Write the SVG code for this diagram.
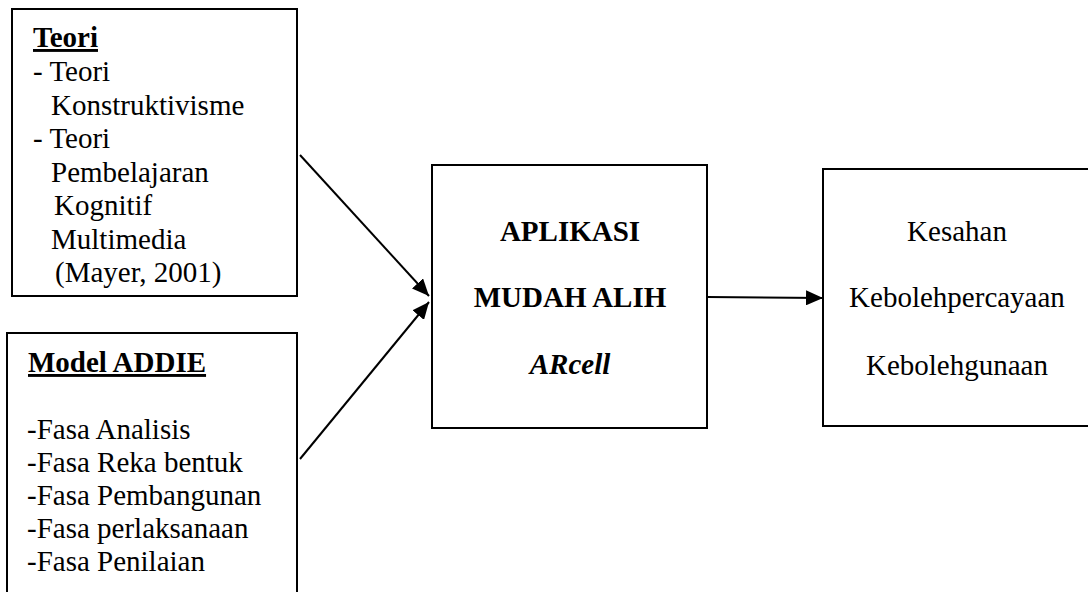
<svg xmlns="http://www.w3.org/2000/svg" width="1088" height="592" viewBox="0 0 1088 592">
<style>
.box{fill:#fff;stroke:#000;stroke-width:2}
text{font-family:'Liberation Serif','Times New Roman',Tinos,'DejaVu Serif',serif;font-size:29px;fill:#000}
.b{font-weight:bold}
.u{text-decoration:underline}
.c{text-anchor:middle}
.conn{stroke:#000;stroke-width:2;fill:none}
</style>
<defs>
<marker id="ah" viewBox="0 0 17 15" refX="17" refY="7.5" markerWidth="17" markerHeight="15" markerUnits="userSpaceOnUse" orient="auto">
<path d="M0,0 L17,7.5 L0,15 Z" fill="#000"/>
</marker>
</defs>
<rect width="1088" height="592" fill="#fff"/>
<g id="teori" font-family="Liberation Serif, serif">
<rect class="box" x="12" y="9" width="285" height="287"/>
<text class="b u" x="33" y="47">Teori</text>
<text x="33" y="81">- Teori</text>
<text x="51" y="115">Konstruktivisme</text>
<text x="33" y="148">- Teori</text>
<text x="51" y="182">Pembelajaran</text>
<text x="54" y="215">Kognitif</text>
<text x="51" y="249">Multimedia</text>
<text x="55" y="282">(Mayer, 2001)</text>
</g>
<g id="addie" font-family="Liberation Serif, serif">
<rect class="box" x="7" y="333" width="290" height="280"/>
<text class="b u" x="28" y="372">Model ADDIE</text>
<text x="27" y="439">-Fasa Analisis</text>
<text x="27" y="472">-Fasa Reka bentuk</text>
<text x="27" y="505">-Fasa Pembangunan</text>
<text x="27" y="538">-Fasa perlaksanaan</text>
<text x="27" y="571">-Fasa Penilaian</text>
</g>
<g id="aplikasi" font-family="Liberation Serif, serif">
<rect class="box" x="432" y="165" width="275" height="263"/>
<text class="b c" x="570" y="241">APLIKASI</text>
<text class="b c" x="570" y="307">MUDAH ALIH</text>
<text class="b c" x="570" y="374" font-style="italic">ARcell</text>
</g>
<g id="penilaian" font-family="Liberation Serif, serif">
<rect class="box" x="823" y="169" width="280" height="257"/>
<text class="c" x="957" y="241">Kesahan</text>
<text class="c" x="957" y="307">Kebolehpercayaan</text>
<text class="c" x="957" y="375">Kebolehgunaan</text>
</g>
<g id="connectors">
<line class="conn" x1="300" y1="155" x2="429" y2="296" marker-end="url(#ah)"/>
<line class="conn" x1="300" y1="459" x2="429" y2="302" marker-end="url(#ah)"/>
<line class="conn" x1="707" y1="297" x2="823" y2="298" marker-end="url(#ah)"/>
</g>
</svg>
